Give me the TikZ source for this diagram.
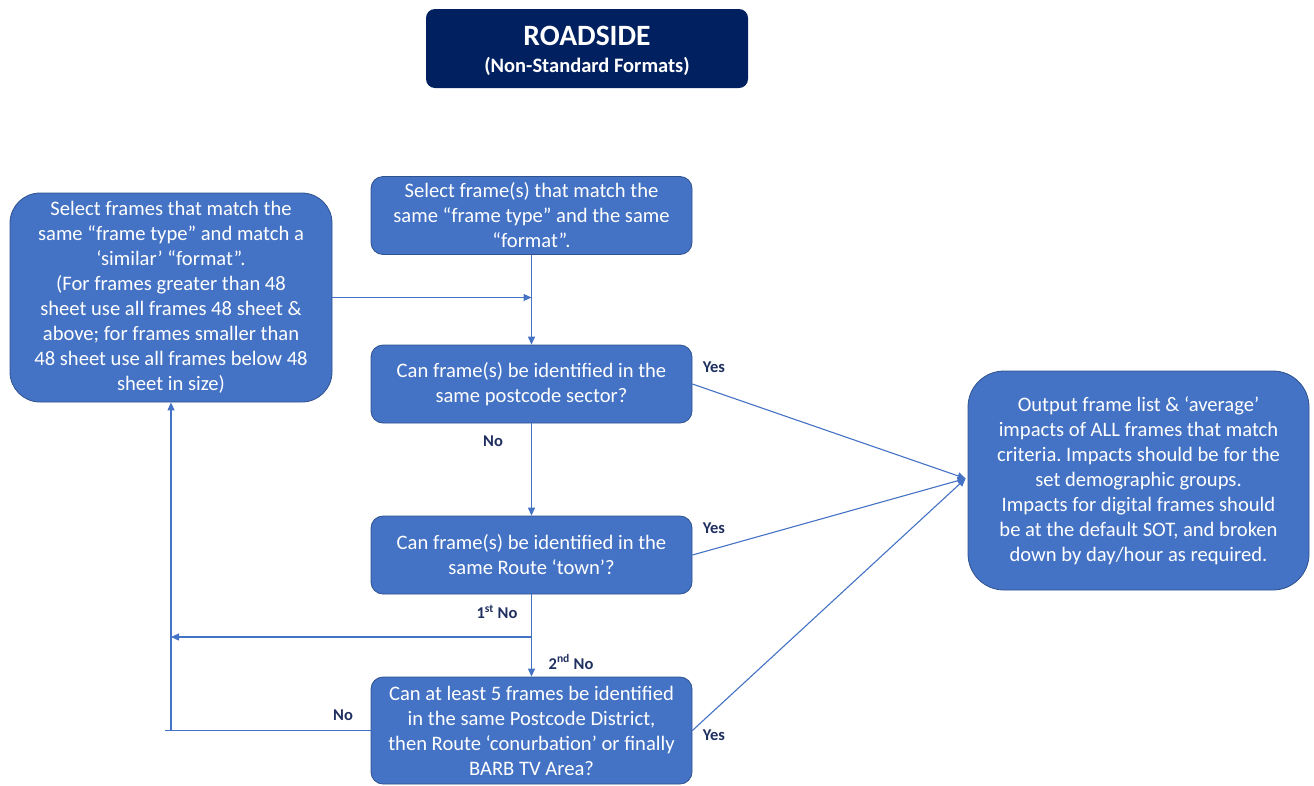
\documentclass[tikz,border=0pt]{standalone}
\usepackage{fontspec}
\setmainfont{Carlito}
\usetikzlibrary{arrows.meta}
\definecolor{navy}{HTML}{002060}
\definecolor{boxblue}{HTML}{4472C4}
\definecolor{boxedge}{HTML}{2F528F}
\definecolor{lbl}{HTML}{1F2F5F}
\frenchspacing
\begin{document}
\begin{tikzpicture}[x=1pt,y=-1pt,
  box/.style={draw=boxedge, line width=0.8pt, fill=boxblue, text=white,
    font=\fontsize{20.6}{25}\selectfont, align=center, inner sep=0pt,
    rounded corners=12pt, minimum width=321pt, minimum height=78pt},
  conn/.style={draw=boxblue, line width=1.1pt},
  arr/.style={conn, -{Triangle[length=8pt,width=7pt]}},
  lab/.style={text=lbl, font=\fontsize{16.5}{18}\selectfont\bfseries, inner sep=0pt}]
\useasboundingbox (0,0) rectangle (1314,785);

% title banner
\node[fill=navy, rounded corners=9pt, minimum width=322pt, minimum height=79pt,
  inner sep=0pt] (title) at (587,48.5) {};
\node[text=white, font=\fontsize{29.5}{32}\selectfont\bfseries, inner sep=0pt]
  (titletext) at (587,36) {ROADSIDE};
\node[text=white, font=\fontsize{20.5}{24}\selectfont\bfseries, inner sep=0pt]
  (subtitle) at (587,66) {(Non-Standard Formats)};

% process boxes
\node[box] (A) at (531.5,215.5)
  {Select frame(s) that match the\\ same “frame type” and the same\\ “format”.};
\node[box, minimum width=322pt, minimum height=209pt, rounded corners=30pt] (L) at (171,297.5)
  {Select frames that match the\\ same “frame type” and match a\\ ‘similar’ “format”.\\
   (For frames greater than 48\\ sheet use all frames 48 sheet \&\\ above; for frames smaller than\\
   48 sheet use all frames below 48\\ sheet in size)};
\node[box] (Q1) at (531.5,384)
  {Can frame(s) be identified in the\\ same postcode sector?};
\node[box] (Q2) at (531.5,555)
  {Can frame(s) be identified in the\\ same Route ‘town’?};
\node[box, minimum height=107pt] (Q3) at (531.5,730.5)
  {Can at least 5 frames be identified\\ in the same Postcode District,\\
   then Route ‘conurbation’ or finally\\ BARB TV Area?};
\node[box, minimum width=341pt, minimum height=219pt, rounded corners=36pt] (R) at (1138.5,480.5)
  {Output frame list \& ‘average’\\ impacts of ALL frames that match\\
   criteria. Impacts should be for the\\ set demographic groups.\\
   Impacts for digital frames should\\ be at the default SOT, and broken\\
   down by day/hour as required.};

% junction points on the connectors
\coordinate (j1) at (L.east -| A.south);
\coordinate (j2) at (531.5,637);
\coordinate (j3) at (L.south |- j2);
\coordinate (j4) at (L.south |- Q3.west);
\coordinate (tip) at ([xshift=-2pt,yshift=2pt]R.west);

% main flow
\draw[arr] (A.south) -- (Q1.north);
\draw[arr] (L.east) -- (j1);
\draw[arr] (Q1.south) -- (Q2.north);
\draw[arr] (Q2.south) -- (Q3.north);
\draw[arr] (j2) -- (j3);
\draw[conn] (Q3.west) -- ([xshift=-6pt]j4);
\draw[arr] (j4) -- (L.south);

% yes branches
\draw[arr] (Q1.east) -- (tip);
\draw[arr] (Q2.east) -- (tip);
\draw[arr] (Q3.east) -- (tip);

% branch labels
\node[lab] (y1) at (714,367) {Yes};
\node[lab] (y2) at (714,528) {Yes};
\node[lab] (y3) at (714,735) {Yes};
\node[lab] (n1) at (493,441) {No};
\node[lab] (n2) at (497,612) {1\textsuperscript{st} No};
\node[lab] (n3) at (571,662) {2\textsuperscript{nd} No};
\node[lab] (n4) at (343,715) {No};
\end{tikzpicture}
\end{document}
